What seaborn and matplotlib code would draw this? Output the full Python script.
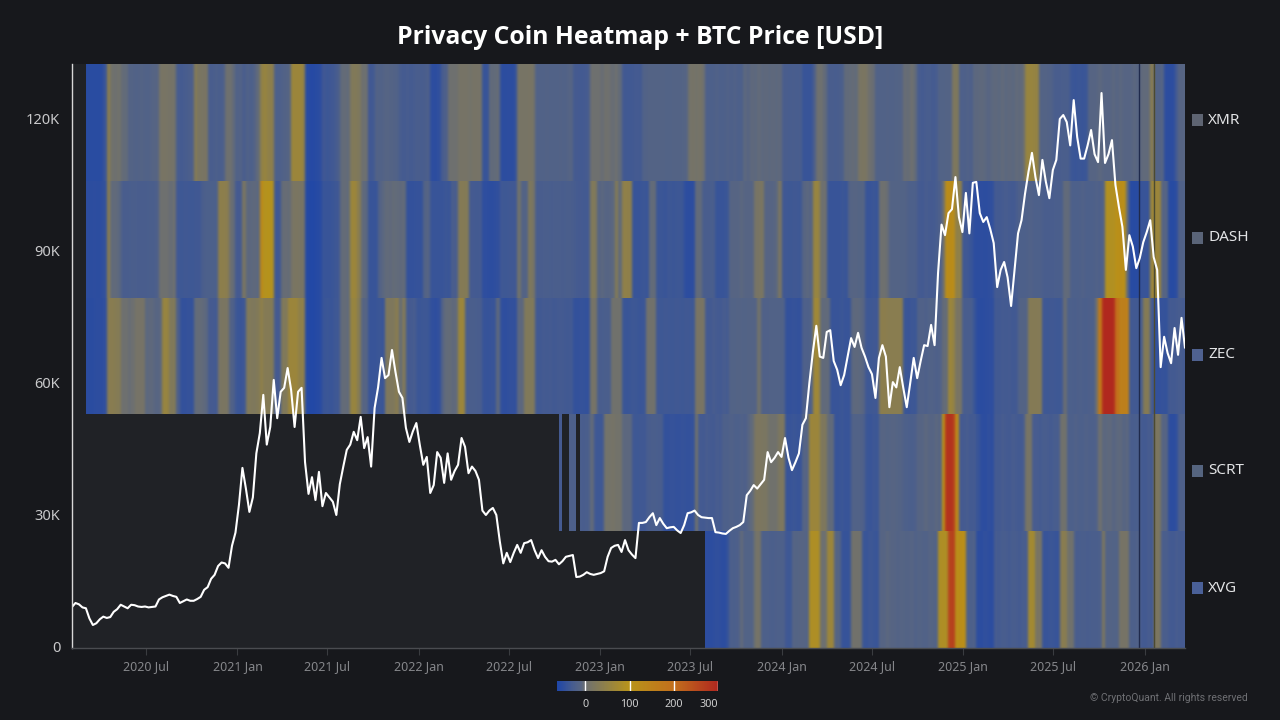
import numpy as np
import pandas as pd
import matplotlib
matplotlib.use("Agg")
import matplotlib.pyplot as plt
import matplotlib.dates as mdates
from matplotlib.colors import LinearSegmentedColormap
from matplotlib.patches import Rectangle
import seaborn as sns

nan = np.nan

coins = ["XMR", "DASH", "ZEC", "SCRT", "XVG"]
legend_colors = ["#5e6472", "#5a6478", "#4f6190", "#55647f", "#4a6098"]
first_week = "2020-02-03"

# weekly values, 20 per line
xmr = [
    nan, nan, nan, nan, -55, -55, -55, -55, -55, -40, 40, 5, 0, 5, -3, -5, -15, -15, -18, -15,
    -15, -18, -15, -12, -10, 12, 15, 12, 10, 8, -28, -30, -28, -25, -20, 30, 18, 15, 15, -25,
    -25, -22, -25, -20, 0, 2, -5, -18, -15, -25, -18, -22, -15, -5, 45, 55, 45, 40, -20, -22,
    -18, -15, -10, 60, 62, 60, 50, -55, -58, -58, -55, -50, -35, -38, -35, -32, -25, -5, -3, -5,
    25, 28, 22, 0, 0, -35, -32, -15, -18, -15, -12, -15, -15, -18, -28, -30, -28, -30, -28, -25,
    -28, -25, -20, -50, -52, -48, -28, -20, 0, 2, 0, 10, 12, 10, 8, 12, 10, 10, -40, -42,
    -5, -5, -3, -50, -52, -50, -52, -45, 12, 14, 12, 15, 10, -18, -16, -18, -15, -18, -16, -18,
    -15, -18, -15, -12, -30, -30, -32, -30, -28, 0, 2, 0, -2, 3, 0, -2, 0, -5, -32, -34,
    -34, -32, -30, -32, -18, -15, -15, -14, -15, -14, -15, -16, -15, -14, -15, -14, -12, 8, 10, 8,
    10, 2, -20, -22, -20, -18, -22, -20, -18, -20, -18, -20, -22, -8, -10, -6, -8, -5, -8, -6,
    -8, -6, -8, -6, -25, -25, -28, -25, -28, -25, -40, -42, -40, -20, 0, 2, -5, -25, -25, -28,
    -25, -22, -5, -5, -3, -5, 15, 18, 15, 0, -2, -18, -16, -18, -15, -18, -16, -15, -14, -2,
    -3, 0, -5, -28, -30, -28, -26, -30, -28, -15, -16, -14, -15, 20, 22, -20, -20, -18, -20, -8,
    -8, -6, -8, -10, -8, -6, -8, -5, -8, -6, -8, -5, -6, -2, 55, 58, 55, 50, -15, -14,
    -15, -18, -25, -26, -25, -24, -25, -38, -40, -38, -40, -38, -10, -12, -10, -8, -10, -12, -10, -8,
    -10, -8, -10, -12, -10, -8, -10, -6, -5, -5, 35, -15, -15, -12, -50, -52, -50, -30, -10, -10,
]
dash = [
    nan, nan, nan, nan, -50, -52, -50, -52, -50, -45, 40, -5, -5, -8, -25, -25, -26, -24, -25, -26,
    -25, -26, -24, -25, -20, 0, 2, 0, -2, 0, -35, -36, -34, -35, -36, -34, -35, -25, -22, -22,
    -22, -22, 40, 42, 38, 0, -3, -30, -30, 15, -8, -8, -6, -8, 130, 95, 98, 92, -35, -35,
    -3, -2, -3, 15, 18, 15, 12, -58, -60, -60, -58, -55, -40, -42, -40, -38, -35, -5, -3, -5,
    60, 62, 35, -5, -8, -40, -42, -40, -15, -8, -5, -6, -4, -5, -6, -5, -45, -46, -45, -44,
    -45, -15, -12, -40, -42, -40, -42, -38, -40, -25, -25, 30, 32, 28, -30, -30, -32, -30, -50, -50,
    -52, -50, -48, -35, -36, -35, -34, -35, 5, -15, -15, 25, 15, -25, -26, -25, -24, -26, -25, -24,
    -25, -26, -24, -25, -28, -30, -30, -32, -30, 25, 25, -10, -8, -12, -10, -8, 30, -5, 45, 45,
    42, -40, -42, -40, -38, -40, -5, -3, -38, -38, -40, -36, -38, -38, -36, -38, -50, -52, -50, -5,
    -5, -25, -25, -26, -24, -40, -42, -40, -38, -12, -10, -12, -8, -10, -12, -10, 12, 15, 18, -10,
    -12, -10, -8, 15, -35, -35, -36, -34, -35, -36, -10, -8, -10, 55, 55, 0, 2, -40, -42, -40,
    -42, -38, -40, -15, -12, -10, -14, -12, -40, -42, -38, -40, 0, 2, -2, -15, -15, -14, -16, -15,
    -20, -22, -20, -30, -32, -28, -30, -30, -28, -20, 0, 120, 125, 118, 45, 45, -35, -35, -40, -50,
    -52, -50, -52, -50, -48, -30, -32, -30, -28, -30, -32, -28, -20, -22, -20, -18, -20, -22, -20, -25,
    -25, -26, -25, -24, -25, -5, -5, -20, -22, -20, -18, -20, -22, -20, -18, -20, -15, 90, 92, 90,
    110, 120, 115, -5, -55, -56, -54, -40, -42, -40, 60, 62, 60, -10, -10, -55, -56, -50, -18, -18,
]
zec = [
    nan, nan, nan, nan, -52, -54, -52, -50, -52, -48, 35, 36, 34, 30, 0, 2, -2, 0, 10, 10,
    10, -8, -6, -8, -10, -8, 55, 55, 25, 28, -20, -45, -46, -44, -45, -5, -3, -5, -8, -30,
    -30, -32, 15, 18, 15, -15, -20, -38, -40, -36, 25, 25, 22, 28, 45, 30, 32, 28, -30, -30,
    25, 25, 60, 62, 60, 45, 45, -58, -60, -60, -58, -55, -40, -38, -40, -36, -35, -5, -3, -5,
    55, 58, 30, -10, -10, -40, -42, -40, -38, -40, 22, 24, 22, 35, -3, 25, -30, -30, -28, -38,
    -38, -36, -38, -48, -50, -46, -15, -5, -4, -6, -5, 60, 62, -25, -25, -24, -26, -25, -42, -44,
    -42, -40, -8, -48, -50, -48, -46, -48, -8, -8, 25, 25, 25, -32, -34, -30, -32, -30, -34, -32,
    -30, -32, -34, -32, -45, -46, -44, -45, -46, 10, 10, -25, -26, -24, -25, 5, 5, 5, -38, -40,
    -38, -36, -38, -40, -38, 5, 6, 5, -35, -36, -34, -35, -36, -34, -35, -36, -34, -35, -36, 15,
    15, 15, -30, -32, -28, -30, -32, -28, -30, -15, -16, -14, -15, -16, -14, -15, -15, 5, -18, -18,
    -18, -16, -18, -16, -18, -45, -46, -44, -45, -46, -20, -20, -18, 65, 65, -5, -5, -5, -40, -42,
    -40, -38, -42, -40, -8, -6, -8, -10, -35, -36, -34, -35, 38, 40, 38, 36, 38, 36, 38, -38,
    -40, -36, -38, -18, -18, -20, -16, -18, -20, -18, -3, -3, 60, 50, 15, 15, -25, -25, -26, -40,
    -52, -54, -52, -50, -50, -32, -34, -30, -32, -30, -34, -32, -15, -15, -14, 30, 32, 30, 30, -35,
    -36, -34, -35, -36, -35, -2, -22, -22, -24, -20, -22, -24, -20, -22, 0, 170, 295, 300, 300, 295,
    200, 150, 155, 150, -32, -32, -34, -25, 30, 32, -30, -45, -46, -44, -45, -30, -32, -30, -28, -30,
]
scrt = [nan] * 140 + [
    -30, nan, nan, -20, -22, nan, -25, -25, -24, -5, -35, -36, -34, 8, 8, 10, 6, 8, -8, -8,
    -8, -35, -36, -34, -35, -28, -25, -24, -26, -25, -45, -46, -44, -45, -46, -44, -45, -46, -44, 5,
    -30, -32, -28, -30, -32, -28, -30, -20, -22, -18, -20, -22, -18, -20, -10, -5, 18, 20, 18, 16,
    5, 5, 5, 20, 20, -40, -42, -38, -40, -42, -12, -12, 60, 62, 60, 22, 22, -5, -5, -42,
    -40, -38, -42, -40, -18, -16, -18, -20, -38, -40, -36, -38, -12, -10, -14, -12, -10, -14, -15, -20,
    -22, -24, -20, -10, -12, -8, -10, -12, -8, -10, 110, 280, 285, 270, 130, -30, -30, -28, -32, -30,
    -40, -50, -52, -48, -50, -30, -32, -28, -30, -32, -28, -30, -32, -28, 12, 14, -28, -28, -30, -26,
    -28, -30, -26, -28, 5, 5, -20, -22, -18, -20, -22, -18, -20, -22, -18, 0, -8, -8, -6, -10,
    -8, -6, -10, -8, -25, -26, -24, -30, -32, -28, -30, 20, 18, -10, -10, -50, -52, -48, -20, -20,
]
xvg = [nan] * 182 + [
    -50, -52, -50, -48, -50, -52, -45, -22, -24, -20, -5, -15, -16, -14, 8, 10, -22, -20,
    -22, -24, -20, -22, -20, -35, -36, -12, -14, -10, -12, -14, 85, 88, 85, 0, 0, 60, 62, -12,
    -14, -42, -44, -40, 5, 6, 4, -38, -40, -36, -38, -40, -10, -12, -8, -10, -12, -15, -12, -14,
    -15, -12, -18, -14, -16, -18, -12, -14, -16, 85, 88, 85, 260, 265, 115, 118, 115, -20, -22, -18,
    -50, -52, -48, -50, -52, -28, -30, -26, -28, -30, -26, -28, -30, -26, -28, 70, 72, 15, 15, -40,
    -42, -38, -40, -42, 35, 36, 5, 5, -25, -26, -24, -25, -26, -24, -25, -22, 20, -15, -14, -16,
    -15, 10, 12, 10, -20, -22, -18, -30, -32, -28, -30, 20, 18, -25, -24, -30, -32, -28, -30, -30,
]

# BTC weekly close in thousand USD
btc_price = [
    9.1, 10, 9.7, 9, 8.8, 6.5, 5, 5.4, 6.3, 6.9, 6.6, 6.8, 8, 8.6, 9.6, 9.2, 8.8, 9.6, 9.5, 9.2,
    9.1, 9.2, 9, 9.1, 9.2, 10.8, 11.3, 11.6, 11.9, 11.6, 11.4, 10, 10.4, 10.8, 10.5, 10.5, 10.9, 11.4, 13, 13.6,
    15.5, 16.4, 18.4, 19.2, 19, 18, 23, 26, 32.3, 40.7, 36, 30.7, 34, 44, 48.6, 57.3, 46, 50, 60.7, 52,
    58, 58.9, 63.4, 58.4, 50, 58, 58.9, 42, 34.8, 38.6, 33.4, 39.8, 32, 35, 34, 33, 30, 37, 41, 44.8,
    46, 48.9, 47, 52.3, 45.2, 47.7, 41, 54.3, 59, 65.7, 61.1, 61.8, 67.5, 62.5, 58, 56.6, 49.8, 46.6, 49, 50.9,
    45.9, 41.4, 43.2, 35, 36.8, 44.3, 43, 37.3, 44, 38, 40, 41.4, 47.5, 45.5, 39.5, 41, 40, 38, 31, 30,
    31, 31.6, 30, 24, 19, 21.4, 19.3, 21.4, 23.2, 21.4, 23.6, 23.8, 24.3, 22, 20.2, 22, 20.5, 19.5, 19.4, 19.8,
    18.8, 19.5, 20.5, 20.7, 20.9, 15.9, 16, 16.4, 17, 16.6, 16.4, 16.6, 16.8, 17.2, 20.5, 22.5, 23, 23.2, 21.6, 24.3,
    22, 21, 20.2, 28.2, 28.2, 28.4, 29.5, 30.4, 27.7, 29.3, 28, 27, 27.2, 27.3, 26.5, 25.9, 27.7, 30.4, 30.6, 31,
    30, 29.5, 29.4, 29.3, 29.3, 26.1, 26, 25.8, 25.7, 26.4, 27, 27.3, 27.7, 28.4, 34.5, 35.5, 36.8, 36, 37, 38,
    44.3, 42, 43, 44.3, 43.2, 47.5, 43, 40.2, 42, 44, 50.5, 52, 60, 67, 73, 66, 65.7, 71.6, 72, 65,
    63, 59.5, 61.8, 66, 70.2, 68.2, 71.4, 68, 66, 63.6, 62, 56.6, 65.7, 68.6, 66, 54.5, 60.2, 59, 63.6, 58.9,
    54.5, 60, 65.7, 61.1, 65, 68.6, 68.4, 73.2, 68.6, 85, 96, 93.6, 98.6, 99.5, 106.8, 97.7, 94.3, 103.2, 94, 105.5,
    105.7, 98.6, 96.6, 97.7, 95, 91.8, 81.8, 85.7, 87.5, 84, 77.5, 85.7, 94, 97, 103, 108, 112.3, 106.8, 102.7, 110.7,
    105.7, 102, 108.4, 110.7, 120, 120.9, 119.3, 114, 124.3, 115.9, 111, 111, 114, 117.5, 112, 110.2, 125.9, 110, 112, 115.2,
    105, 100, 95.5, 85.7, 93.6, 91, 86.1, 88.4, 92, 94.3, 97, 88.6, 85.7, 63.6, 70.5, 66.8, 64.5, 72.5, 66.4, 74.8,
    68,
]

dark_line_dates = ["2025-12-21", "2026-01-19"]
dark_line_colors = ["#1f2a4c", "#4c4a30"]
price_ticks = [0, 30, 60, 90, 120]
scale_ticks = [0, 100, 200, 300]

sns.set_theme(style="dark")
plt.rcParams["font.family"] = ["Noto Sans", "DejaVu Sans"]

bg = "#17181c"
heat_df = pd.DataFrame([xmr, dash, zec, scrt, xvg], index=coins)
btc_df = pd.DataFrame({
    "date": pd.date_range(first_week, periods=len(btc_price), freq="7D"),
    "price": btc_price,
})

cmap = LinearSegmentedColormap.from_list("privacy", [
    (0.0, "#1f46a8"),
    (34 / 364, "#465c90"),
    (54 / 364, "#586682"),
    (64 / 364, "#6e7070"),
    (164 / 364, "#b8941a"),
    (264 / 364, "#c26f1c"),
    (1.0, "#b0281f"),
])


def soften_columns(image, dpi):
    # the source screenshot has soft edges between the weekly columns
    kernel = np.array([1, 2, 3, 2, 1]) / 9
    blur = lambda a: np.apply_along_axis(lambda row: np.convolve(row, kernel, mode="same"), 1, a)
    alpha = image[:, :, 3]
    weight = blur(alpha)
    out = image.copy()
    for i in range(3):
        out[:, :, i] = blur(image[:, :, i] * alpha) / np.maximum(weight, 1e-6)
    return out, 0, 0


fig = plt.figure(figsize=(12.8, 7.2), dpi=100, facecolor=bg)
box = [72 / 1280, 72 / 720, 1113 / 1280, 584 / 720]
ax_heat = fig.add_axes(box, facecolor="#202226")
ax_cbar = fig.add_axes([557 / 1280, 29 / 720, 161 / 1280, 10 / 720])

sns.heatmap(
    heat_df,
    ax=ax_heat,
    cmap=cmap,
    vmin=-64,
    vmax=300,
    xticklabels=False,
    yticklabels=False,
    cbar_ax=ax_cbar,
    cbar_kws={"orientation": "horizontal", "ticks": scale_ticks},
)
ax_heat.collections[0].set_agg_filter(soften_columns)
ax_heat.set_xlim(0, heat_df.shape[1])
ax_heat.set_xlabel("")
ax_heat.set_ylabel("")
for spine in ax_heat.spines.values():
    spine.set_visible(False)

ax_cbar.tick_params(length=0, pad=5.5, labelsize=7.8, labelcolor="#cfcfcf", colors="#cfcfcf")
for v in scale_ticks:
    ax_cbar.axvline(v, color="white", lw=1)
ax_cbar.get_xticklabels()[-1].set_ha("right")
for spine in ax_cbar.spines.values():
    spine.set_visible(False)

# price line on its own transparent axes over the heatmap
ax = fig.add_axes(box, facecolor="none")
sns.lineplot(data=btc_df, x="date", y="price", ax=ax, color="white", lw=1.5, estimator=None)
for d, c in zip(dark_line_dates, dark_line_colors):
    ax.axvline(pd.Timestamp(d), color=c, lw=1, zorder=1)

ax.set_xlim(pd.Timestamp(first_week), pd.Timestamp(first_week) + pd.Timedelta(weeks=heat_df.shape[1]))
ax.set_ylim(-0.23, 132.5)
ax.set_xlabel("")
ax.set_ylabel("")
ax.set_xticks(pd.date_range("2020-07-01", "2026-01-01", freq="6MS"))
ax.xaxis.set_major_formatter(mdates.DateFormatter("%Y %b"))
ax.set_yticks(price_ticks)
ax.set_yticklabels([f"{v}K" if v else "0" for v in price_ticks])
ax.tick_params(axis="x", length=5, width=0.8, color="#3a3c40", labelcolor="#85868a", labelsize=9, pad=4, bottom=True)
ax.tick_params(axis="y", length=0, labelcolor="#c9c9cb", labelsize=10.5, pad=8.5)
ax.grid(False)
for side in ["top", "right"]:
    ax.spines[side].set_visible(False)
ax.spines["left"].set_color("#d8d8d8")
ax.spines["left"].set_linewidth(1)
ax.spines["bottom"].set_color("#4a4c50")
ax.spines["bottom"].set_linewidth(1)

fig.text(0.5, 1 - 37 / 720, "Privacy Coin Heatmap + BTC Price [USD]", color="white",
         fontsize=17.8, fontweight="bold", family=["Open Sans", "DejaVu Sans"], ha="center", va="center")

# coin legend on the right
legend_y = [120, 238, 355, 471, 588]
for name, color, y in zip(coins, legend_colors, legend_y):
    fig.add_artist(Rectangle((1192 / 1280, 1 - (y + 6) / 720), 11 / 1280, 12 / 720,
                             transform=fig.transFigure, facecolor=color, edgecolor="none"))
    fig.text(1208 / 1280, 1 - y / 720, name, color="#e2e3e5", fontsize=11, va="center")

fig.text(1248 / 1280, 1 - 698 / 720, "© CryptoQuant. All rights reserved", color="#6f7074",
         fontsize=7.5, family=["Roboto", "DejaVu Sans"], ha="right", va="center")

fig.savefig("out.png", dpi=100, facecolor=bg)
